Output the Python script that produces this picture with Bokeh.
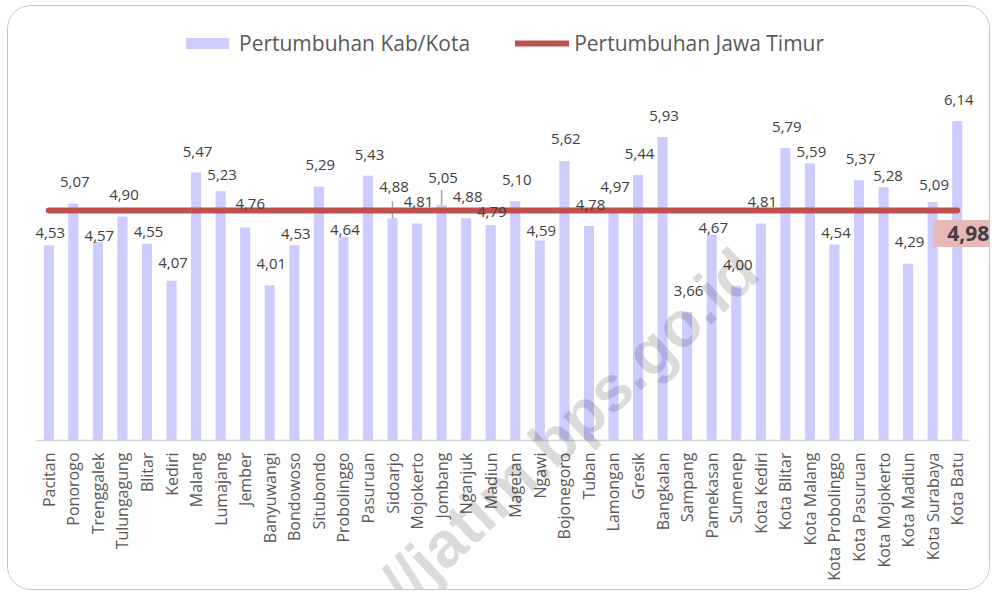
import math
from bokeh.plotting import figure
from bokeh.models import FactorRange, Range1d, Legend, LegendItem, ColumnDataSource
from bokeh.core.properties import value
from bokeh.embed import file_html
from bokeh.resources import INLINE

# ---------------- data ----------------
regions = ["Pacitan", "Ponorogo", "Trenggalek", "Tulungagung", "Blitar", "Kediri",
           "Malang", "Lumajang", "Jember", "Banyuwangi", "Bondowoso", "Situbondo",
           "Probolinggo", "Pasuruan", "Sidoarjo", "Mojokerto", "Jombang", "Nganjuk",
           "Madiun", "Magetan", "Ngawi", "Bojonegoro", "Tuban", "Lamongan", "Gresik",
           "Bangkalan", "Sampang", "Pamekasan", "Sumenep", "Kota Kediri", "Kota Blitar",
           "Kota Malang", "Kota Probolinggo", "Kota Pasuruan", "Kota Mojokerto",
           "Kota Madiun", "Kota Surabaya", "Kota Batu"]
growth = [4.53, 5.07, 4.57, 4.90, 4.55, 4.07, 5.47, 5.23, 4.76, 4.01, 4.53, 5.29,
          4.64, 5.43, 4.88, 4.81, 5.05, 4.88, 4.79, 5.10, 4.59, 5.62, 4.78, 4.97,
          5.44, 5.93, 3.66, 4.67, 4.00, 4.81, 5.79, 5.59, 4.54, 5.37, 5.28, 4.29,
          5.09, 6.14]
jatim_growth = 4.98
series_names = ["Pertumbuhan Kab/Kota", "Pertumbuhan Jawa Timur"]
watermark = "http://jatim.bps.go.id"

# label placement (screen px): distance above bar top, horizontal nudge
label_dy = [12, 21.5, 6, 21.6, 11.6, 17.7, 20.6, 16, 23.4, 21.3, 11, 21.5,
            6.7, 20.7, 31, 21.6, 27, 21, 13, 21, 9.6, 22, 21, 24,
            21, 21, 21, 6.4, 21, 21.6, 21, 11.4, 11.4, 21.3, 11.3, 21.7,
            17, 21]
label_dx = [1.5] * len(regions)
label_dx[8] = 5
label_dx[34] = 4.5
label_dx[18] = 1
leader_px = {"Sidoarjo": 17, "Jombang": 15}

# ---------------- style ----------------
FONT = "Open Sans"
BAR_COLOR = "#CCCCFF"
LINE_COLOR = "#C0504D"
TEXT_COLOR = "#404040"
AXIS_TEXT = "#595959"

W, H = 983, 585
MB_TOP, MB_BOTTOM, MB_LEFT, MB_RIGHT = 15, 151, 28, 22
PX_PER_UNIT = 77.2
Y0 = 2.0
frame_h = H - MB_TOP - MB_BOTTOM
y_top = Y0 + frame_h / PX_PER_UNIT

p = figure(width=W, height=H, output_backend="svg", toolbar_location=None,
           x_range=FactorRange(*regions, range_padding=0),
           y_range=Range1d(Y0, y_top), y_axis_location=None,
           min_border_top=MB_TOP, min_border_bottom=MB_BOTTOM,
           min_border_left=MB_LEFT, min_border_right=MB_RIGHT)
p.outline_line_color = None
p.xgrid.grid_line_color = None
p.ygrid.grid_line_color = None
p.background_fill_color = "white"
p.border_fill_color = "white"
p.styles = {"border": "1px solid #c4c4c4", "border-radius": "24px", "overflow": "hidden",
            "margin-left": "7px", "margin-top": "5px"}

src = ColumnDataSource(dict(x=regions, top=growth,
                            lbl=[f"{v:.2f}".replace(".", ",") for v in growth],
                            dy=[-d for d in label_dy], dx=label_dx,
                            jt=[jatim_growth] * len(regions)))

bars = p.vbar(x="x", top="top", bottom=Y0, width=0.41, source=src,
              fill_color=BAR_COLOR, line_color=None)

# leader lines
lx = [r for r in leader_px]
ly0 = [growth[regions.index(r)] for r in lx]
ly1 = [growth[regions.index(r)] + leader_px[r] / PX_PER_UNIT for r in lx]
p.segment(x0=lx, y0=ly0, x1=lx, y1=ly1, line_color="#a6a6a6", line_width=1.5)

line = p.line(x="x", y="jt", source=src, line_color=LINE_COLOR, line_width=6,
              line_cap="round")

p.text(x="x", y="top", text="lbl", source=src, x_offset="dx", y_offset="dy",
       text_font=value(FONT), text_font_size="15px", text_color=TEXT_COLOR,
       text_align="center", text_baseline="middle", level="overlay")

# x axis
ax = p.xaxis[0]
ax.axis_line_color = "#d4d4d4"
ax.axis_line_width = 1.5
ax.major_tick_line_color = None
ax.minor_tick_line_color = None
ax.major_tick_out = 0
ax.major_tick_in = 0
ax.major_label_orientation = math.pi / 2
ax.major_label_standoff = 12
ax.major_label_text_font = FONT
ax.major_label_text_font_size = "16px"
ax.major_label_text_color = AXIS_TEXT

# legend
legend = Legend(items=[LegendItem(label=series_names[0], renderers=[bars]),
                       LegendItem(label=series_names[1], renderers=[line])],
                orientation="horizontal", location=(144, 383),
                glyph_width=54, glyph_height=14, label_height=14,
                label_standoff=5, spacing=45, padding=0, margin=0,
                label_text_font=FONT, label_text_font_size="21px",
                label_text_color=AXIS_TEXT, border_line_color=None,
                background_fill_alpha=0)
p.add_layout(legend)

# Jawa Timur value tag at the end of the provincial line
p.text(x=[regions[-1]], y=[jatim_growth], text=[f"{jatim_growth:.2f}".replace(".", ",")],
       x_offset=11, y_offset=23,
       text_font=value(FONT), text_font_size="21px", text_font_style="bold",
       text_color=TEXT_COLOR, text_align="center", text_baseline="middle",
       background_fill_color="#E6B9B8",
       padding=dict(left=14, right=14, top=6, bottom=6), level="overlay")

# watermark (synthetic x coordinate on the factor axis)
p.text(x=[28.96], y=[4.33], text=[watermark], angle=43, angle_units="deg",
       text_font=value("Liberation Sans"), text_font_size="64px", text_font_style="bold",
       text_color="black", text_alpha=0.14, text_align="right", text_baseline="middle",
       level="overlay")

open("out.html", "w").write(file_html(p, INLINE))
